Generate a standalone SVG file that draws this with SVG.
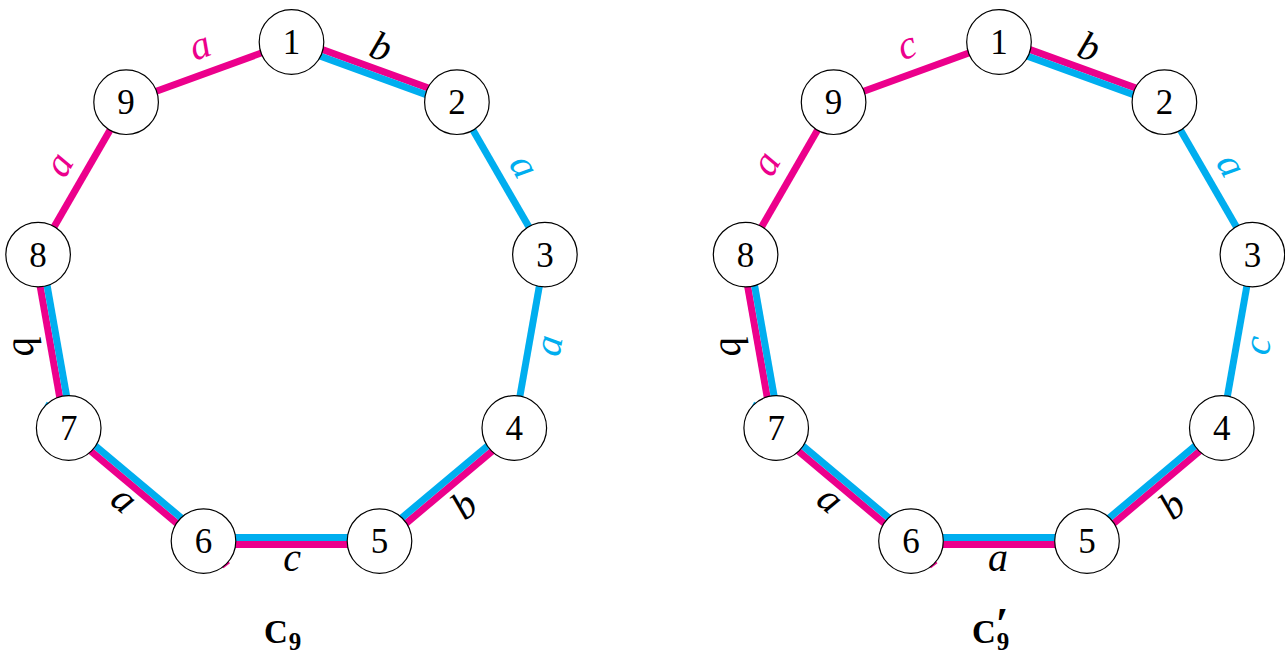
<svg xmlns="http://www.w3.org/2000/svg" width="1285" height="661" viewBox="0 0 1285 661">
<style>
.bg{fill:#fff}
.pk{stroke:#EC008C;stroke-width:7;fill:none}
.bl{stroke:#00AEEF;stroke-width:7;fill:none}
.pk2{stroke:#EC008C;stroke-width:3;fill:none}
.bl2{stroke:#00AEEF;stroke-width:3;fill:none}
.nd circle{fill:#fff;stroke:#000;stroke-width:1.2}
.nd text{font-family:"Liberation Serif","DejaVu Serif",serif;font-size:35px;text-anchor:middle;fill:#000}
.lb{font-family:"Liberation Serif","DejaVu Serif",serif;font-style:italic;font-size:40px;text-anchor:middle}
.k{fill:#000}.p{fill:#EC008C}.c{fill:#00AEEF}
.ttl{font-family:"Liberation Serif","DejaVu Serif",serif;font-weight:bold;fill:#000;font-size:33px}
.t9{font-size:25px}
.tp{font-size:46px}
</style>
<rect class="bg" x="0" y="0" width="1285" height="661"/>

<!-- LEFT GRAPH C9 -->
<g id="graphC9">
<g id="connectors-C9">
<line class="pk" x1="126.1" y1="102.2" x2="291.5" y2="42"/>
<line class="pk" x1="38.1" y1="254.6" x2="126.1" y2="102.2"/>
<line class="bl" x1="456.9" y1="102.2" x2="544.9" y2="254.6"/>
<line class="bl" x1="544.9" y1="254.6" x2="514.3" y2="428"/>
<line class="pk" x1="292.7" y1="38.7" x2="458.1" y2="98.9"/>
<line class="bl" x1="290.3" y1="45.3" x2="455.7" y2="105.5"/>
<line class="pk" x1="516.55" y1="430.68" x2="381.75" y2="543.78"/>
<line class="bl" x1="512.05" y1="425.32" x2="377.25" y2="538.42"/>
<line class="pk" x1="379.5" y1="544.6" x2="203.5" y2="544.6"/>
<line class="bl" x1="379.5" y1="537.6" x2="203.5" y2="537.6"/>
<line class="pk" x1="201.25" y1="543.78" x2="66.45" y2="430.68"/>
<line class="bl" x1="205.75" y1="538.42" x2="70.95" y2="425.32"/>
<line class="pk" x1="65.25" y1="428.61" x2="34.65" y2="255.21"/>
<line class="bl" x1="72.15" y1="427.39" x2="41.55" y2="253.99"/>
<path class="bl2" d="M44.5,409 L48,402.5"/>
<path class="pk2" d="M222.5,567 L229,562"/>
</g>
<g id="labels-C9">
<text class="lb p" transform="translate(201,49) rotate(-20)" y="9">a</text>
<text class="lb k" transform="translate(381,47) rotate(20)" y="13">b</text>
<text class="lb c" transform="translate(521,168) rotate(60)" y="9">a</text>
<text class="lb c" transform="translate(552,346) rotate(-80)" y="9">a</text>
<text class="lb k" transform="translate(464,505) rotate(-40)" y="13">b</text>
<text class="lb k" transform="translate(292,562) rotate(0)" y="9">c</text>
<text class="lb k" transform="translate(122,502) rotate(40)" y="9">a</text>
<text class="lb k" transform="translate(27,346) rotate(80)" y="13">b</text>
<text class="lb p" transform="translate(62,166) rotate(-60)" y="9">a</text>
</g>
<g id="n1" class="nd"><circle cx="291.5" cy="42" r="32.3"/><text x="291.5" y="54">1</text></g>
<g id="n2" class="nd"><circle cx="456.9" cy="102.2" r="32.3"/><text x="456.9" y="114.2">2</text></g>
<g id="n3" class="nd"><circle cx="544.9" cy="254.6" r="32.3"/><text x="544.9" y="266.6">3</text></g>
<g id="n4" class="nd"><circle cx="514.3" cy="428" r="32.3"/><text x="514.3" y="440">4</text></g>
<g id="n5" class="nd"><circle cx="379.5" cy="541.1" r="32.3"/><text x="379.5" y="553.1">5</text></g>
<g id="n6" class="nd"><circle cx="203.5" cy="541.1" r="32.3"/><text x="203.5" y="553.1">6</text></g>
<g id="n7" class="nd"><circle cx="68.7" cy="428" r="32.3"/><text x="68.7" y="440">7</text></g>
<g id="n8" class="nd"><circle cx="38.1" cy="254.6" r="32.3"/><text x="38.1" y="266.6">8</text></g>
<g id="n9" class="nd"><circle cx="126.1" cy="102.2" r="32.3"/><text x="126.1" y="114.2">9</text></g>
<text id="title-C9" class="ttl" x="264" y="643">C<tspan class="t9" dx="1" dy="7">9</tspan></text>
</g>

<!-- RIGHT GRAPH C9' -->
<g id="graphC9p" transform="translate(707.5,0)">
<g id="connectors-C9p">
<line class="pk" x1="126.1" y1="102.2" x2="291.5" y2="42"/>
<line class="pk" x1="38.1" y1="254.6" x2="126.1" y2="102.2"/>
<line class="bl" x1="456.9" y1="102.2" x2="544.9" y2="254.6"/>
<line class="bl" x1="544.9" y1="254.6" x2="514.3" y2="428"/>
<line class="pk" x1="292.7" y1="38.7" x2="458.1" y2="98.9"/>
<line class="bl" x1="290.3" y1="45.3" x2="455.7" y2="105.5"/>
<line class="pk" x1="516.55" y1="430.68" x2="381.75" y2="543.78"/>
<line class="bl" x1="512.05" y1="425.32" x2="377.25" y2="538.42"/>
<line class="pk" x1="379.5" y1="544.6" x2="203.5" y2="544.6"/>
<line class="bl" x1="379.5" y1="537.6" x2="203.5" y2="537.6"/>
<line class="pk" x1="201.25" y1="543.78" x2="66.45" y2="430.68"/>
<line class="bl" x1="205.75" y1="538.42" x2="70.95" y2="425.32"/>
<line class="pk" x1="65.25" y1="428.61" x2="34.65" y2="255.21"/>
<line class="bl" x1="72.15" y1="427.39" x2="41.55" y2="253.99"/>
<path class="bl2" d="M44.5,409 L48,402.5"/>
<path class="pk2" d="M222.5,567 L229,562"/>
</g>
<g id="labels-C9p">
<text class="lb p" transform="translate(200.5,49) rotate(-20)" y="9">c</text>
<text class="lb k" transform="translate(381.5,47) rotate(20)" y="13">b</text>
<text class="lb c" transform="translate(520.5,167) rotate(60)" y="9">a</text>
<text class="lb c" transform="translate(553.5,346) rotate(-80)" y="9">c</text>
<text class="lb k" transform="translate(464.5,505) rotate(-40)" y="13">b</text>
<text class="lb k" transform="translate(290.5,562) rotate(0)" y="9">a</text>
<text class="lb k" transform="translate(120.5,502) rotate(40)" y="9">a</text>
<text class="lb k" transform="translate(26.5,346) rotate(80)" y="13">b</text>
<text class="lb p" transform="translate(61.5,165) rotate(-60)" y="9">a</text>
</g>
<g id="m1" class="nd"><circle cx="291.5" cy="42" r="32.3"/><text x="291.5" y="54">1</text></g>
<g id="m2" class="nd"><circle cx="456.9" cy="102.2" r="32.3"/><text x="456.9" y="114.2">2</text></g>
<g id="m3" class="nd"><circle cx="544.9" cy="254.6" r="32.3"/><text x="544.9" y="266.6">3</text></g>
<g id="m4" class="nd"><circle cx="514.3" cy="428" r="32.3"/><text x="514.3" y="440">4</text></g>
<g id="m5" class="nd"><circle cx="379.5" cy="541.1" r="32.3"/><text x="379.5" y="553.1">5</text></g>
<g id="m6" class="nd"><circle cx="203.5" cy="541.1" r="32.3"/><text x="203.5" y="553.1">6</text></g>
<g id="m7" class="nd"><circle cx="68.7" cy="428" r="32.3"/><text x="68.7" y="440">7</text></g>
<g id="m8" class="nd"><circle cx="38.1" cy="254.6" r="32.3"/><text x="38.1" y="266.6">8</text></g>
<g id="m9" class="nd"><circle cx="126.1" cy="102.2" r="32.3"/><text x="126.1" y="114.2">9</text></g>
<text id="title-C9p" class="ttl" x="264.5" y="643">C<tspan class="tp" dx="0" dy="-3">′</tspan><tspan class="t9" dx="-12" dy="10">9</tspan></text>
</g>
</svg>
